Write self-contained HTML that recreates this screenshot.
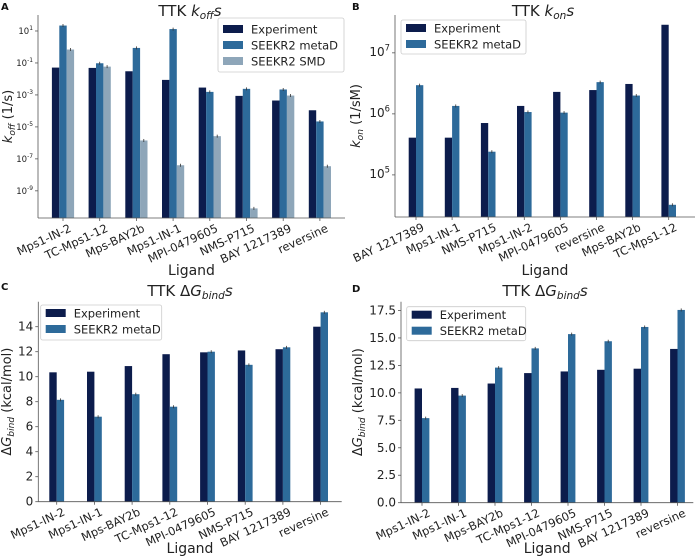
<!DOCTYPE html>
<html><head><meta charset="utf-8">
<style>
html,body{margin:0;padding:0;background:#fff;}
svg{display:block;font-family:"DejaVu Sans","Liberation Sans",sans-serif;}
</style></head>
<body>
<svg id="fig" width="700" height="560" viewBox="0 0 700 560" xmlns="http://www.w3.org/2000/svg"></svg>
<script>
// Panel A data (log10 koff)
const ligandsA = ["Mps1-IN-2","TC-Mps1-12","Mps-BAY2b","Mps1-IN-1","MPI-0479605","NMS-P715","BAY 1217389","reversine"];
const koffExp = [-1.29,-1.31,-1.52,-2.06,-2.54,-3.06,-3.35,-3.96];
const koffMeta = [1.34,-1.02,-0.06,1.12,-2.81,-2.62,-2.66,-4.66];
const koffSMD = [-0.16,-1.23,-5.85,-7.4,-5.58,-10.1,-3.04,-7.46];
const ticksA = [1,-1,-3,-5,-7,-9];
// Panel B data (log10 kon)
const ligandsB = ["BAY 1217389","Mps1-IN-1","NMS-P715","Mps1-IN-2","MPI-0479605","reversine","Mps-BAY2b","TC-Mps1-12"];
const konExp = [5.61,5.61,5.85,6.13,6.36,6.39,6.49,7.46];
const konMeta = [6.47,6.13,5.38,6.03,6.02,6.52,6.30,4.51];
const ticksB = [7,6,5];
// Panel C data
const ligandsC = ["Mps1-IN-2","Mps1-IN-1","Mps-BAY2b","TC-Mps1-12","MPI-0479605","NMS-P715","BAY 1217389","reversine"];
const dgExpC = [10.35,10.4,10.85,11.8,11.95,12.1,12.2,14.0];
const dgMetaC = [8.15,6.8,8.6,7.6,12.0,10.95,12.35,15.15];
const ticksC = [0,2,4,6,8,10,12,14];
// Panel D data
const ligandsD = ["Mps1-IN-2","Mps1-IN-1","Mps-BAY2b","TC-Mps1-12","MPI-0479605","NMS-P715","BAY 1217389","reversine"];
const dgExpD = [10.4,10.45,10.85,11.8,11.95,12.1,12.2,14.0];
const dgMetaD = [7.7,9.75,12.3,14.05,15.35,14.7,16.0,17.55];
const ticksD = [0,2.5,5,7.5,10,12.5,15,17.5];

const NS="http://www.w3.org/2000/svg";
const svg=document.getElementById('fig');
const COL=["#0c1c4c","#2d6a9a","#8ea6b9"];
function el(tag,attrs,parent,text){const e=document.createElementNS(NS,tag);for(const k in attrs)e.setAttribute(k,attrs[k]);if(text!==undefined)e.textContent=text;(parent||svg).appendChild(e);return e;}

function panel(o){
  const g=el('g',{});
  
  
  const y=v=>o.bottom-(v-o.vmin)/(o.vmax-o.vmin)*(o.bottom-o.top);
  const n=o.cats.length;
  const cx=i=>o.c0+i*o.step;
  o.series.forEach((s,si)=>{
    const off=(si-(o.series.length-1)/2)*o.bw;
    s.forEach((v,i)=>{
      const yy=y(v);
      const r=el('rect',{x:cx(i)+off-o.bw/2,y:yy,width:o.bw,height:o.bottom-yy,fill:COL[si]},g);
      
      
      if(si>0){el('line',{x1:cx(i)+off,x2:cx(i)+off,y1:yy-1.5,y2:yy+1.5,stroke:'#333','stroke-width':0.8},g);}
    });
  });
  // axes
  el('line',{x1:o.left,x2:o.left,y1:o.top,y2:o.bottom,stroke:'#555','stroke-width':0.8},g);
  el('line',{x1:o.left,x2:o.right,y1:o.bottom,y2:o.bottom,stroke:'#555','stroke-width':0.8},g);
  // y ticks
  o.ticks.forEach(t=>{
    const yy=y(t);
    el('line',{x1:o.left-3,x2:o.left,y1:yy,y2:yy,stroke:'#555','stroke-width':0.8},g);
    if(o.log){
      const tx=el('text',{x:o.left-5,y:yy+3,'text-anchor':'end','font-size':o.tfs,fill:'#222'},g);
      
      
      el('tspan',{},tx,'10');
      el('tspan',{dy:-o.tfs*0.45,'font-size':o.tfs*0.7},tx,String(t));
    } else {
      const tx=el('text',{x:o.left-5,y:yy+4,'text-anchor':'end','font-size':o.tfs,fill:'#222'},g,o.fmt(t));
      
      
    }
  });
  // x ticks
  o.cats.forEach((c,i)=>{
    el('line',{x1:cx(i),x2:cx(i),y1:o.bottom,y2:o.bottom+3,stroke:'#555','stroke-width':0.8},g);
    const tx=el('text',{transform:`translate(${cx(i)+9},${o.bottom+13}) rotate(-25)`,'text-anchor':'end','font-size':11.5,fill:'#222'},g,c);
    
    
  });
  const xl=el('text',{x:(o.left+o.right)/2,y:o.xly,'text-anchor':'middle','font-size':14,fill:'#222'},g,'Ligand');
  
  
  // y label
  const yl=el('text',{transform:`translate(${o.ylx},${(o.top+o.bottom)/2}) rotate(-90)`,'text-anchor':'middle','font-size':13,fill:'#222'},g);
  
  
  o.ylab(yl);
  // title
  const ti=el('text',{x:o.titleX,y:o.titleY,'text-anchor':'middle','font-size':15,fill:'#222'},g);
  
  
  o.title(ti);
  const pl=el('text',{x:o.plx,y:o.ply,'font-size':10,'font-weight':'bold',fill:'#111'},g,o.letter);
  
  
  // legend
  const L=o.leg;
  const lg=el('g',{},g);
  
  
  el('rect',{x:L.x,y:L.y,width:L.w,height:L.h,fill:'#fff',stroke:'#ccc','stroke-width':0.8,rx:2},lg);
  o.labels.forEach((lab,i)=>{
    const yy=L.y+L.pad+i*L.row;
    el('rect',{x:L.x+5,y:yy-5,width:20,height:8,fill:COL[i]},lg);
    const t=el('text',{x:L.x+33,y:yy+3.5,'font-size':L.fs,fill:'#222'},lg,lab);
    
    
  });
}
function sub(t,base,s,rest){el('tspan',{},t,base);el('tspan',{'font-style':'italic'},t,s[0]);el('tspan',{dy:3,'font-size':'0.7em','font-style':'italic'},t,s[1]);el('tspan',{dy:-3,'font-style':'italic'},t,rest);}

panel({name:'panel-a-koff',letter:'A',plx:1,ply:10,cats:ligandsA,series:[koffExp,koffMeta,koffSMD],keys:['experiment','metad','smd'],
  labels:['Experiment','SEEKR2 metaD','SEEKR2 SMD'],log:true,vmin:-10.7,vmax:2.0,top:15,bottom:218,left:38,right:345,c0:63,step:36.7,bw:7.4,
  ticks:ticksA,tfs:8.5,xly:275,ylx:12,titleX:190,titleY:16,
  ylab:t=>{el('tspan',{'font-style':'italic'},t,'k');el('tspan',{dy:3,'font-size':'0.7em','font-style':'italic'},t,'off');el('tspan',{dy:-3},t,' (1/s)');},
  title:t=>{el('tspan',{},t,'TTK ');el('tspan',{'font-style':'italic'},t,'k');el('tspan',{dy:3,'font-size':'0.7em','font-style':'italic'},t,'off');el('tspan',{dy:-3,'font-style':'italic'},t,'s');},
  leg:{x:218,y:18,w:126,h:54,pad:12,row:16,fs:11.5}});

panel({name:'panel-b-kon',letter:'B',plx:352,ply:10,cats:ligandsB,series:[konExp,konMeta],keys:['experiment','metad'],
  labels:['Experiment','SEEKR2 metaD'],log:true,vmin:4.31,vmax:7.62,top:15,bottom:217,left:395,right:695,c0:416,step:36.1,bw:7.3,
  ticks:ticksB,tfs:12,xly:275,ylx:360,titleX:543,titleY:16,
  ylab:t=>{el('tspan',{'font-style':'italic'},t,'k');el('tspan',{dy:3,'font-size':'0.7em','font-style':'italic'},t,'on');el('tspan',{dy:-3},t,' (1/sM)');},
  title:t=>{el('tspan',{},t,'TTK ');el('tspan',{'font-style':'italic'},t,'k');el('tspan',{dy:3,'font-size':'0.7em','font-style':'italic'},t,'on');el('tspan',{dy:-3,'font-style':'italic'},t,'s');},
  leg:{x:401,y:20,w:125,h:34,pad:9,row:16,fs:11.5}});

panel({name:'panel-c-dg',letter:'C',plx:1,ply:290,cats:ligandsC,series:[dgExpC,dgMetaC],keys:['experiment','metad'],
  labels:['Experiment','SEEKR2 metaD'],log:false,vmin:0,vmax:16.0,top:301.7,bottom:501.7,left:38.3,right:341.7,c0:56.7,step:37.7,bw:7.4,
  ticks:ticksC,tfs:12,fmt:v=>String(v),xly:553,ylx:11,titleX:190,titleY:296,
  ylab:t=>{el('tspan',{},t,'Δ');el('tspan',{'font-style':'italic'},t,'G');el('tspan',{dy:3,'font-size':'0.7em','font-style':'italic'},t,'bind');el('tspan',{dy:-3},t,' (kcal/mol)');},
  title:t=>{el('tspan',{},t,'TTK Δ');el('tspan',{'font-style':'italic'},t,'G');el('tspan',{dy:3,'font-size':'0.7em','font-style':'italic'},t,'bind');el('tspan',{dy:-3,'font-style':'italic'},t,'s');},
  leg:{x:40.7,y:305,w:121,h:35,pad:9,row:16,fs:11.5}});

panel({name:'panel-d-dg',letter:'D',plx:352,ply:292,cats:ligandsD,series:[dgExpD,dgMetaD],keys:['experiment','metad'],
  labels:['Experiment','SEEKR2 metaD'],log:false,vmin:0,vmax:18.3,top:301.7,bottom:502.7,left:401,right:693.3,c0:422,step:36.5,bw:7.4,
  ticks:ticksD,tfs:12,fmt:v=>v.toFixed(1),xly:553,ylx:362,titleX:545,titleY:296,
  ylab:t=>{el('tspan',{},t,'Δ');el('tspan',{'font-style':'italic'},t,'G');el('tspan',{dy:3,'font-size':'0.7em','font-style':'italic'},t,'bind');el('tspan',{dy:-3},t,' (kcal/mol)');},
  title:t=>{el('tspan',{},t,'TTK Δ');el('tspan',{'font-style':'italic'},t,'G');el('tspan',{dy:3,'font-size':'0.7em','font-style':'italic'},t,'bind');el('tspan',{dy:-3,'font-style':'italic'},t,'s');},
  leg:{x:406.7,y:306.7,w:119,h:34,pad:9,row:16,fs:11.5}});
</script>
</body></html>
